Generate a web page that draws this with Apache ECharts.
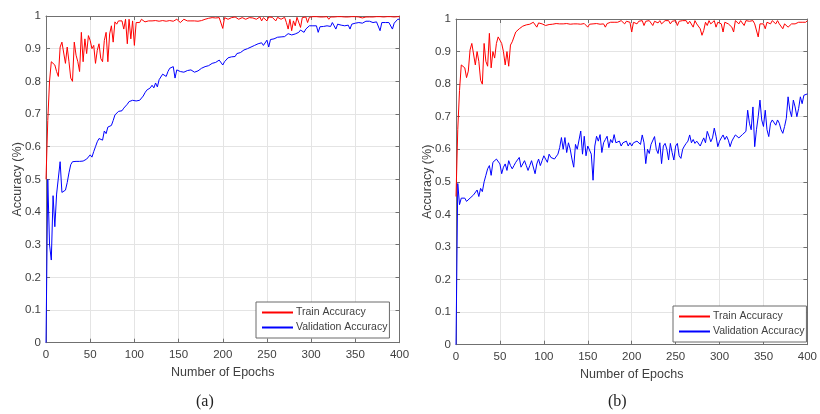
<!DOCTYPE html>
<html>
<head>
<meta charset="utf-8">
<script src="https://cdn.jsdelivr.net/npm/echarts@6/dist/echarts.min.js"></script>
<style>
html,body{margin:0;padding:0;background:#fff;}
#chart{width:820px;height:414px;}
</style>
</head>
<body>
<div id="chart"></div>
<script>
// Epoch sampling (every 2 epochs, 0..400)
const epochs = [];
for (let e = 0; e <= 400; e += 2) epochs.push(e);

const xTicks = [0, 50, 100, 150, 200, 250, 300, 350, 400];
const yTicks = [0, 0.1, 0.2, 0.3, 0.4, 0.5, 0.6, 0.7, 0.8, 0.9, 1];
const seriesNames = ['Train Accuracy', 'Validation Accuracy'];
const captions = ['(a)', '(b)'];

// (a) Train accuracy
const trainA = [
 0.50,0.68,0.80,0.86,0.855,0.85,0.83,0.815,0.905,0.92,
 0.925,0.855,0.905,0.86,0.81,0.80,0.92,0.88,0.86,0.83,
 0.95,0.86,0.93,0.885,0.94,0.925,0.90,0.91,0.855,0.895,
 0.915,0.87,0.86,0.925,0.95,0.86,0.945,0.97,0.92,0.982,
 0.975,0.985,0.99,0.985,0.96,0.99,0.915,0.99,0.93,0.985,
 0.91,0.98,0.985,0.98,0.99,0.985,0.982,0.988,0.985,0.99,
 0.985,0.984,0.986,0.985,0.984,0.985,0.986,0.985,0.984,0.985,
 0.986,0.985,0.984,0.985,0.99,0.985,0.98,0.985,0.99,0.985,
 0.985,0.984,0.985,0.986,0.985,0.985,0.984,0.985,0.986,0.985,
 0.99,0.995,0.993,0.996,0.995,0.997,0.994,0.996,0.995,0.997,
 0.962,0.995,0.997,0.99,0.996,0.995,0.993,0.997,0.996,0.99,
 0.996,0.995,0.997,0.99,0.996,0.995,0.997,0.994,0.996,0.99,
 0.996,0.997,0.985,0.995,0.996,0.985,0.997,0.995,0.996,0.99,
 0.985,0.996,0.997,0.99,0.995,0.996,0.98,0.96,0.99,0.955,
 0.985,0.97,0.996,0.99,0.965,0.995,0.99,0.997,0.98,0.996,
 0.997,0.998,0.997,0.998,0.997,0.997,0.998,0.997,0.997,0.998,
 0.99,0.997,0.998,0.997,0.997,0.998,0.997,0.998,0.997,0.997,
 0.998,0.997,0.997,0.998,0.997,0.998,0.997,0.997,0.998,0.994,
 0.998,0.997,0.998,0.997,0.998,0.997,0.998,0.998,0.997,0.998,
 0.998,0.997,0.998,0.998,0.997,0.998,0.998,0.997,0.998,0.998,
 0.998
];

// (a) Validation accuracy
const valA = [
 0.00,0.50,0.30,0.253,0.45,0.355,0.455,0.46,0.554,0.46,
 0.462,0.467,0.49,0.52,0.545,0.554,0.555,0.555,0.556,0.555,
 0.555,0.556,0.556,0.562,0.556,0.575,0.568,0.585,0.60,0.615,
 0.625,0.63,0.62,0.648,0.64,0.66,0.655,0.665,0.68,0.697,
 0.70,0.708,0.705,0.71,0.718,0.715,0.73,0.738,0.735,0.742,
 0.743,0.74,0.745,0.742,0.748,0.755,0.765,0.773,0.768,0.78,
 0.788,0.78,0.795,0.783,0.805,0.81,0.822,0.824,0.815,0.83,
 0.84,0.835,0.845,0.81,0.835,0.832,0.83,0.835,0.828,0.83,
 0.833,0.835,0.835,0.83,0.828,0.83,0.832,0.838,0.84,0.842,
 0.845,0.843,0.848,0.85,0.855,0.852,0.858,0.862,0.865,0.86,
 0.85,0.86,0.865,0.872,0.87,0.875,0.88,0.876,0.885,0.89,
 0.888,0.893,0.896,0.893,0.90,0.898,0.905,0.903,0.91,0.912,
 0.915,0.91,0.918,0.91,0.913,0.926,0.905,0.928,0.93,0.93,
 0.933,0.935,0.935,0.936,0.936,0.937,0.936,0.946,0.94,0.942,
 0.94,0.945,0.95,0.95,0.957,0.955,0.95,0.96,0.955,0.97,
 0.97,0.97,0.968,0.97,0.95,0.967,0.967,0.968,0.967,0.97,
 0.967,0.968,0.98,0.97,0.96,0.975,0.97,0.972,0.975,0.97,
 0.975,0.972,0.96,0.975,0.975,0.978,0.975,0.98,0.98,0.978,
 0.98,0.984,0.983,0.984,0.982,0.98,0.984,0.982,0.98,0.955,
 0.98,0.978,0.98,0.98,0.98,0.975,0.96,0.978,0.975,0.99,
 0.99
];

// (b) Train accuracy
const trainB = [
 0.455,0.66,0.78,0.859,0.855,0.85,0.82,0.84,0.905,0.925,
 0.92,0.859,0.90,0.87,0.812,0.80,0.925,0.87,0.855,0.956,
 0.85,0.90,0.88,0.925,0.945,0.935,0.925,0.90,0.859,0.90,
 0.855,0.92,0.93,0.925,0.96,0.965,0.97,0.975,0.978,0.98,
 0.982,0.985,0.984,0.988,0.99,0.985,0.975,0.988,0.985,0.985,
 0.988,0.98,0.985,0.983,0.986,0.984,0.985,0.986,0.984,0.985,
 0.986,0.985,0.984,0.986,0.985,0.984,0.986,0.985,0.983,0.985,
 0.986,0.984,0.985,0.986,0.985,0.975,0.984,0.986,0.985,0.984,
 0.986,0.985,0.984,0.986,0.985,0.975,0.986,0.988,0.99,0.988,
 0.99,0.992,0.99,0.993,0.995,0.99,0.985,0.993,0.995,0.99,
 0.96,0.99,0.995,0.985,0.993,0.99,0.995,0.98,0.993,0.99,
 0.995,0.99,0.98,0.993,0.995,0.988,0.995,0.985,0.99,0.995,
 0.99,0.995,0.985,0.993,0.99,0.995,0.98,0.993,0.99,0.995,
 0.99,0.995,0.985,0.993,0.99,0.975,0.995,0.985,0.99,0.97,
 0.95,0.965,0.99,0.98,0.995,0.985,0.99,0.995,0.975,0.99,
 0.995,0.985,0.96,0.99,0.995,0.985,0.99,0.975,0.96,0.995,
 0.99,0.985,0.995,0.99,0.98,0.995,0.99,0.993,0.99,0.995,
 0.985,0.99,0.945,0.985,0.99,0.985,0.97,0.99,0.995,0.985,
 0.995,0.99,0.985,0.995,0.985,0.99,0.97,0.985,0.99,0.975,
 0.98,0.985,0.99,0.985,0.98,0.99,0.985,0.99,0.995,0.99,
 0.995
];

// (b) Validation accuracy
const valB = [
 0.00,0.495,0.43,0.45,0.45,0.45,0.44,0.445,0.45,0.455,
 0.46,0.465,0.475,0.455,0.48,0.47,0.50,0.52,0.54,0.55,
 0.52,0.56,0.555,0.57,0.575,0.555,0.525,0.545,0.555,0.535,
 0.565,0.55,0.54,0.55,0.56,0.565,0.575,0.545,0.54,0.565,
 0.55,0.535,0.55,0.565,0.57,0.525,0.555,0.57,0.55,0.565,
 0.58,0.57,0.56,0.585,0.575,0.58,0.57,0.575,0.585,0.605,
 0.636,0.60,0.636,0.59,0.62,0.60,0.57,0.545,0.615,0.60,
 0.60,0.656,0.585,0.64,0.58,0.61,0.605,0.585,0.505,0.61,
 0.64,0.625,0.645,0.59,0.62,0.63,0.64,0.605,0.63,0.62,
 0.645,0.62,0.615,0.625,0.61,0.62,0.615,0.625,0.61,0.62,
 0.61,0.62,0.615,0.625,0.62,0.615,0.644,0.62,0.556,0.60,
 0.587,0.615,0.62,0.639,0.60,0.587,0.62,0.556,0.61,0.618,
 0.60,0.567,0.618,0.59,0.567,0.61,0.618,0.58,0.572,0.60,
 0.61,0.618,0.625,0.644,0.62,0.63,0.618,0.625,0.62,0.61,
 0.623,0.635,0.62,0.655,0.64,0.623,0.635,0.665,0.64,0.608,
 0.625,0.635,0.644,0.63,0.64,0.628,0.608,0.625,0.635,0.644,
 0.64,0.635,0.639,0.645,0.64,0.655,0.72,0.68,0.66,0.73,
 0.608,0.66,0.70,0.751,0.69,0.67,0.72,0.66,0.639,0.68,
 0.69,0.685,0.674,0.69,0.68,0.66,0.649,0.67,0.695,0.761,
 0.72,0.70,0.751,0.73,0.70,0.725,0.761,0.74,0.766,0.765,
 0.77
];

const pair = arr => epochs.map((e, i) => [e, arr[i]]);

const chart = echarts.init(document.getElementById('chart'), null, {renderer: 'canvas'});

const txt = '#404040';
const axisCol = '#707070';
const font = 'Liberation Sans, Arial, sans-serif';

const grids = [
  {left: 46, top: 16, width: 353.5, height: 326.7},
  {left: 456, top: 19, width: 354, height: 325.7}
];

function mainX(gi) {
  return {
    type: 'value', gridIndex: gi, min: 0, max: 400, interval: 50, position: 'bottom',
    name: 'Number of Epochs', nameLocation: 'middle', nameGap: 23,
    nameTextStyle: {color: txt, fontSize: 12.5, fontFamily: font},
    axisLine: {show: true, onZero: false, lineStyle: {color: axisCol, width: 1}},
    axisTick: {show: true, inside: true, length: 4, lineStyle: {color: axisCol}},
    axisLabel: {color: txt, fontSize: 11.5, fontFamily: font, margin: 6,
      formatter: v => xTicks.includes(v) ? String(v) : ''},
    splitLine: {show: true, lineStyle: {color: '#e4e4e4', width: 1}}
  };
}
function topX(gi) {
  return {
    type: 'value', gridIndex: gi, min: 0, max: 400, interval: 50, position: 'top',
    axisLine: {show: true, onZero: false, lineStyle: {color: axisCol, width: 1}},
    axisTick: {show: true, inside: true, length: 4, lineStyle: {color: axisCol}},
    axisLabel: {show: false}, splitLine: {show: false}
  };
}
function mainY(gi) {
  return {
    type: 'value', gridIndex: gi, min: 0, max: 1, interval: 0.1, position: 'left',
    name: 'Accuracy (%)', nameLocation: 'middle', nameGap: 22, nameRotate: 90,
    nameMoveOverlap: false,
    nameTextStyle: {color: txt, fontSize: 12.5, fontFamily: font},
    axisLine: {show: true, onZero: false, lineStyle: {color: axisCol, width: 1}},
    axisTick: {show: true, inside: true, length: 4, lineStyle: {color: axisCol}},
    axisLabel: {color: txt, fontSize: 11.5, fontFamily: font, margin: 5,
      formatter: v => { const r = Math.round(v * 10) / 10; return yTicks.includes(r) ? String(r) : ''; }},
    splitLine: {show: true, lineStyle: {color: '#e4e4e4', width: 1}}
  };
}
function rightY(gi) {
  return {
    type: 'value', gridIndex: gi, min: 0, max: 1, interval: 0.1, position: 'right',
    axisLine: {show: true, onZero: false, lineStyle: {color: axisCol, width: 1}},
    axisTick: {show: true, inside: true, length: 4, lineStyle: {color: axisCol}},
    axisLabel: {show: false}, splitLine: {show: false}
  };
}

function lineSeries(name, data, color, xi, yi) {
  return {
    type: 'line', name: name, data: data, xAxisIndex: xi, yAxisIndex: yi,
    showSymbol: false, symbol: 'none', animation: false,
    lineStyle: {color: color, width: 1}, itemStyle: {color: color}
  };
}

function legendAt(left, top) {
  return {
    data: seriesNames, orient: 'vertical', left: left, top: top,
    backgroundColor: '#fff', borderColor: '#6a6a6a', borderWidth: 1,
    padding: [4, 2, 4, 6], itemGap: 2, itemWidth: 31, itemHeight: 2, icon: 'rect',
    textStyle: {color: txt, fontSize: 10.5, fontFamily: font, lineHeight: 13, padding: [0, 0, 0, -2]},
    selectedMode: false
  };
}

chart.setOption({
  animation: false,
  backgroundColor: '#fff',
  grid: grids,
  xAxis: [mainX(0), topX(0), mainX(1), topX(1)],
  yAxis: [mainY(0), rightY(0), mainY(1), rightY(1)],
  legend: [legendAt(256, 302), legendAt(673, 306)],
  series: [
    lineSeries(seriesNames[0], pair(trainA), '#ff0000', 0, 0),
    lineSeries(seriesNames[1], pair(valA), '#0000ff', 0, 0),
    lineSeries(seriesNames[0], pair(trainB), '#ff0000', 2, 2),
    lineSeries(seriesNames[1], pair(valB), '#0000ff', 2, 2)
  ],
  graphic: [
    {type: 'text', left: 196, top: 394, style: {text: captions[0], fill: '#222', font: '16px "Liberation Serif", "DejaVu Serif", serif'}},
    {type: 'text', left: 608, top: 394, style: {text: captions[1], fill: '#222', font: '16px "Liberation Serif", "DejaVu Serif", serif'}}
  ]
});
</script>
</body>
</html>
